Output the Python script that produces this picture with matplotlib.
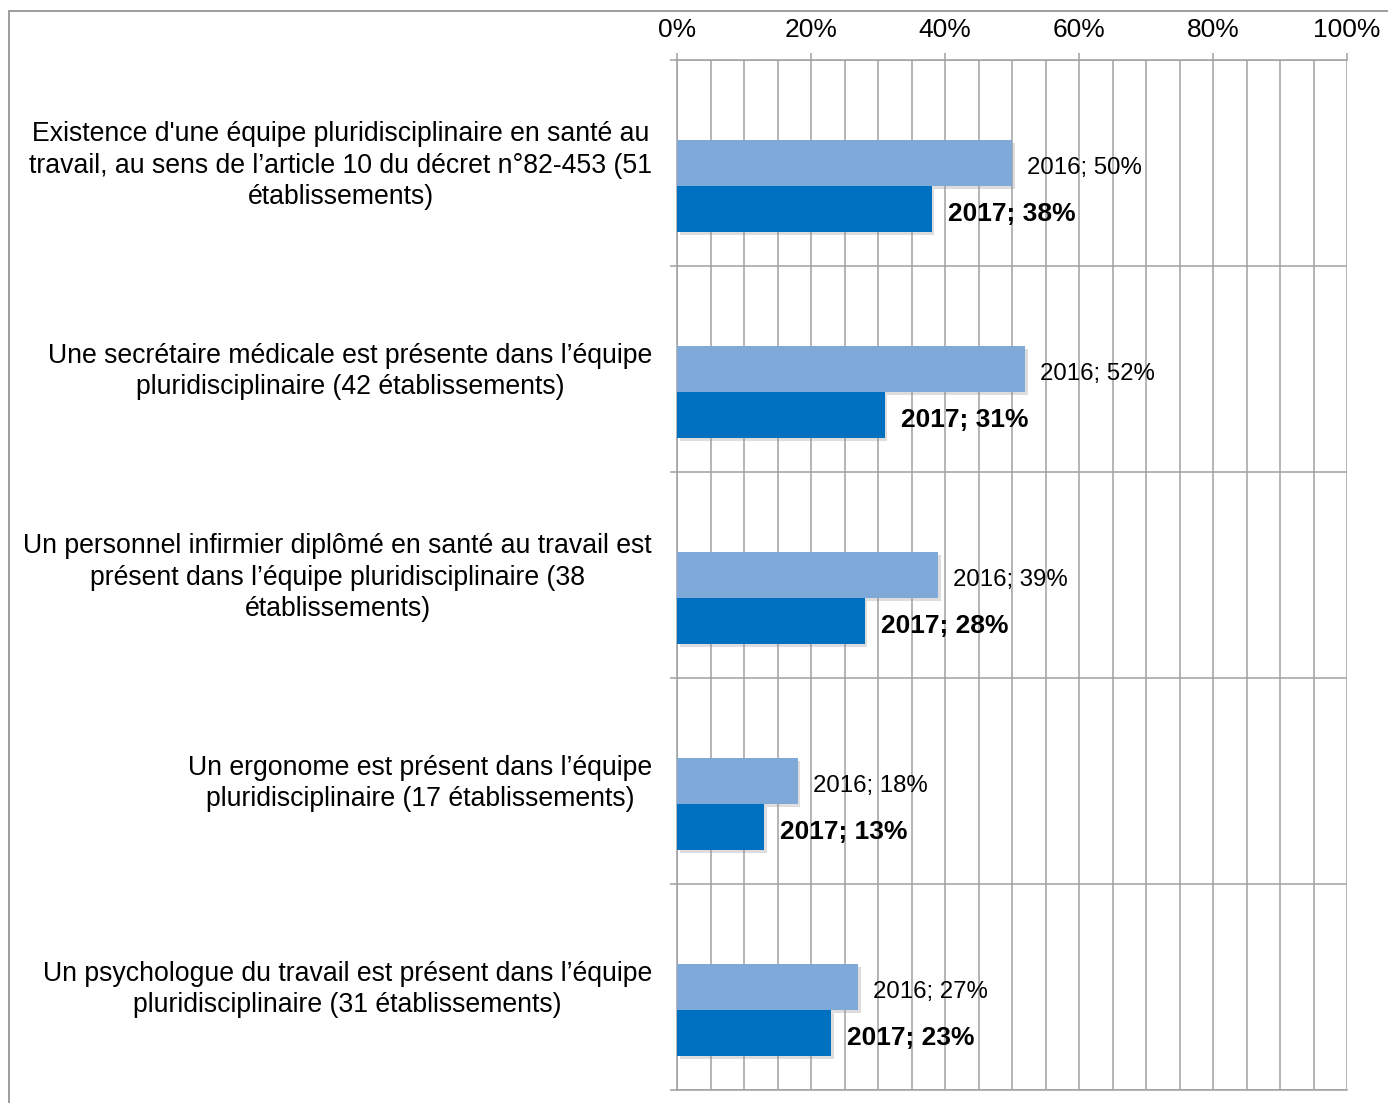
import numpy as np
import matplotlib.pyplot as plt
import matplotlib.patches as patches
import matplotlib.patheffects as pe
from matplotlib.ticker import MultipleLocator, FuncFormatter

categories = [
    "Existence d'une équipe pluridisciplinaire en santé au\n"
    "travail, au sens de l\u2019article 10 du décret n°82-453 (51\n"
    "établissements)",
    "Une secrétaire médicale est présente dans l\u2019équipe\n"
    "pluridisciplinaire (42 établissements)",
    "Un personnel infirmier diplômé en santé au travail est\n"
    "présent dans l\u2019équipe pluridisciplinaire (38\n"
    "établissements)",
    "Un ergonome est présent dans l\u2019équipe\n"
    "pluridisciplinaire (17 établissements)",
    "Un psychologue du travail est présent dans l\u2019équipe\n"
    "pluridisciplinaire (31 établissements)",
]
values_2016 = [50, 52, 39, 18, 27]
values_2017 = [38, 31, 28, 13, 23]
series_names = ["2016", "2017"]

plt.rcParams['font.family'] = ['Liberation Sans', 'DejaVu Sans']

fig = plt.figure(figsize=(13.88, 11.03), dpi=100)
ax = fig.add_axes([677 / 1388, 1 - 1090 / 1103, 670 / 1388, 1030 / 1103])

# frame around the whole figure (cut at right and bottom like the source)
fig.patches.append(patches.Rectangle((9 / 1388, -0.05), 1.2, 0.99 + 0.05,
                                     transform=fig.transFigure, fill=False,
                                     edgecolor='#8C8C8C', linewidth=1.2))

y = np.arange(len(categories))
h = 0.223
shadow = [pe.withSimplePatchShadow(offset=(2, -2), shadow_rgbFace='#909090', alpha=0.3)]
b16 = ax.barh(y, values_2016, height=h, color='#7FA9D9', zorder=3)
b17 = ax.barh(y + h, values_2017, height=h, color='#0070C0', zorder=3)
for b in list(b16) + list(b17):
    b.set_path_effects(shadow)

for yi, v in zip(y, values_2016):
    ax.annotate(f"{series_names[0]}; {v}%", (v, yi), xytext=(10.8, -1.5),
                textcoords='offset points', va='center_baseline', ha='left',
                fontsize=17.3, zorder=4)
for yi, v in zip(y + h, values_2017):
    ax.annotate(f"{series_names[1]}; {v}%", (v, yi), xytext=(11.5, -1.5),
                textcoords='offset points', va='center_baseline', ha='left',
                fontsize=19, fontweight='bold', zorder=4)

for yi, lab in zip(y, categories):
    ax.annotate(lab, (0, yi), xytext=(-18, -2), textcoords='offset points',
                ha='right', va='center', multialignment='center',
                fontsize=19.2, linespacing=1.27, annotation_clip=False)

ax.set_xlim(0, 100)
ax.set_ylim(len(categories) - 0.5, -0.5)

grid_col = '#A0A0A0'
ax.xaxis.set_major_locator(MultipleLocator(20))
ax.xaxis.set_minor_locator(MultipleLocator(5))
ax.xaxis.set_major_formatter(FuncFormatter(lambda v, p: f"{v:.0f}%"))
ax.xaxis.tick_top()
ax.tick_params(axis='x', which='major', direction='out', length=5, width=1.1,
               color=grid_col, labelsize=19, pad=8)
ax.tick_params(axis='x', which='minor', length=0)
ax.set_yticks(np.arange(-0.5, len(categories)))
ax.set_yticklabels([])
ax.tick_params(axis='y', direction='out', length=5, width=1.1, color=grid_col)

ax.grid(True, axis='x', which='both', color=grid_col, linewidth=1.1, zorder=0)
ax.grid(True, axis='y', which='major', color=grid_col, linewidth=1.1, zorder=0)
ax.set_axisbelow(True)

for side in ['top', 'left', 'bottom']:
    ax.spines[side].set_color(grid_col)
    ax.spines[side].set_linewidth(1.1)
ax.spines['right'].set_visible(False)

fig.savefig('out.png', dpi=100)
